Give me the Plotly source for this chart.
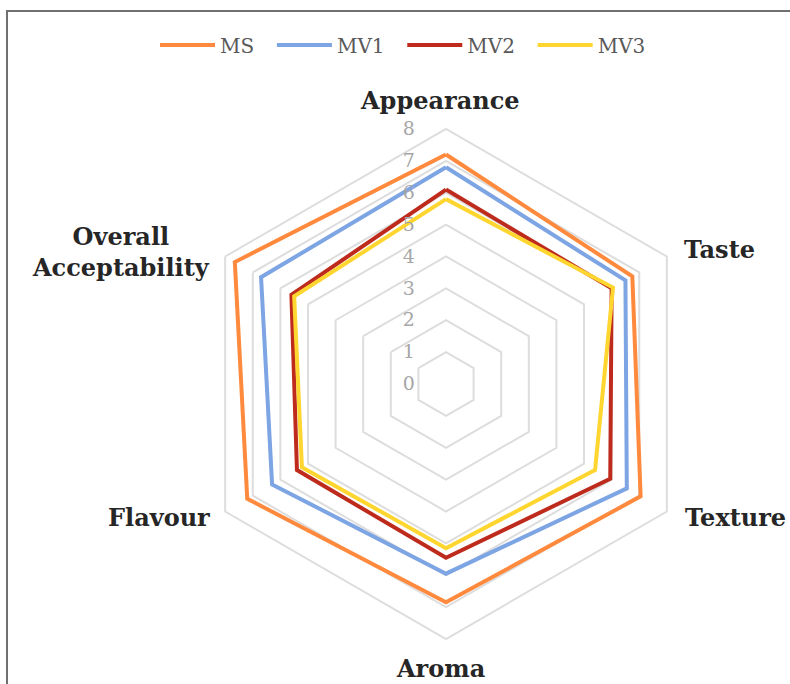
import plotly.graph_objects as go

categories = ["Appearance", "Taste", "Texture", "Aroma", "Flavour", "Overall Acceptability"]
series_names = ["MS", "MV1", "MV2", "MV3"]
ms = [7.2, 6.75, 7.05, 6.85, 7.2, 7.65]
mv1 = [6.8, 6.5, 6.55, 5.95, 6.3, 6.7]
mv2 = [6.1, 6.0, 5.95, 5.45, 5.4, 5.6]
mv3 = [5.8, 6.05, 5.4, 5.15, 5.22, 5.5]
radial_ticks = [0, 1, 2, 3, 4, 5, 6, 7, 8]

colors = ["#FF8A3D", "#7DA4E3", "#BE2B1D", "#FFD52F"]
values = [ms, mv1, mv2, mv3]

fig = go.Figure()
for name, vals, col in zip(series_names, values, colors):
    fig.add_trace(go.Scatterpolar(
        r=vals + [vals[0]],
        theta=categories + [categories[0]],
        mode="lines",
        name=name + "\u00a0\u00a0",
        line=dict(color=col, width=4),
    ))

cx, cy, R = 446, 384, 255
W, H = 790, 684
fig.update_layout(
    width=W, height=H,
    margin=dict(l=0, r=0, t=0, b=0),
    paper_bgcolor="white",
    plot_bgcolor="white",
    showlegend=True,
    legend=dict(
        orientation="h", x=155 / W, xanchor="left", y=1 - 45 / H, yanchor="middle",
        font=dict(family="DejaVu Serif", size=20, color="#595959"),
        itemwidth=55,
        bgcolor="rgba(0,0,0,0)",
    ),
    polar=dict(
        domain=dict(x=[(cx - R) / W, (cx + R) / W], y=[(H - cy - R) / H, (H - cy + R) / H]),
        gridshape="linear",
        bgcolor="white",
        radialaxis=dict(
            range=[0, 8], tickvals=radial_ticks, ticktext=[str(t) for t in radial_ticks],
            angle=90, tickangle=90, showline=False,
            gridcolor="#DDDDDD", gridwidth=2,
            ticks="outside", ticklen=24, tickcolor="rgba(0,0,0,0)",
            tickfont=dict(family="DejaVu Serif", size=19, color="#A6A6A6"),
            side="counterclockwise",
        ),
        angularaxis=dict(
            rotation=90, direction="clockwise",
            showgrid=False, showline=True, linecolor="#DDDDDD", linewidth=2,
            showticklabels=False, ticks="",
        ),
    ),
)

label_font = dict(family="DejaVu Serif", size=24, color="#262626")
ann = [
    ("<b>Appearance</b>", 440, 101, "center"),
    ("<b>Taste</b>", 682, 250, "left"),
    ("<b>Texture</b>", 683, 517, "left"),
    ("<b>Aroma</b>", 440, 668, "center"),
    ("<b>Flavour</b>", 212, 517, "right"),
    ("<b>Overall<br>Acceptability</b>", 212, 252, "right"),
]
for text, x, y, anchor in ann:
    fig.add_annotation(
        text=text, x=x / W, y=1 - y / H, xref="paper", yref="paper",
        xanchor=anchor, yanchor="middle", showarrow=False, align="center",
        font=label_font,
    )

fig.add_shape(type="rect", xref="paper", yref="paper",
              x0=7 / W, x1=1.02, y0=-0.02, y1=1 - 11 / H,
              line=dict(color="#707070", width=2))

fig.write_html("out.html", config={"displayModeBar": False},
               post_script="document.body.style.margin='0px';document.body.style.overflow='hidden';")
